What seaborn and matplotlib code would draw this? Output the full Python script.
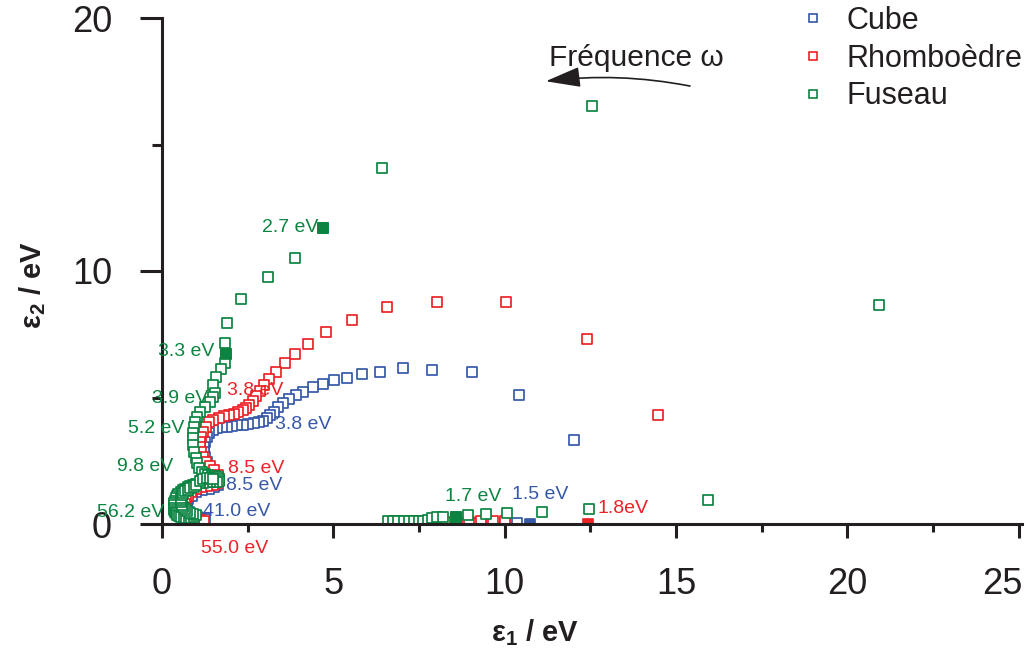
import matplotlib
matplotlib.use('Agg')
import matplotlib.pyplot as plt
from matplotlib.lines import Line2D
import seaborn as sns

# Cube
cube_e1 = [6.65, 6.95, 7.25, 7.55, 7.85, 8.15, 8.5, 8.85, 9.2, 9.6, 10.0, 10.35,
           12.03, 10.42, 9.05, 7.88, 7.03, 6.36, 5.84, 5.4, 5.02, 4.7, 4.41, 4.12,
           3.91, 3.71, 3.53, 3.39, 3.27, 3.15, 3.06, 2.95, 2.82, 2.68, 2.52, 2.36,
           2.2, 2.05, 1.9, 1.75, 1.6, 1.48, 1.38, 1.3, 1.25, 1.22, 1.22, 1.25, 1.3,
           1.38, 1.5, 1.6, 1.66, 1.64, 1.52, 1.36, 1.18, 1.0, 0.87, 0.77, 0.72,
           0.71, 0.74, 0.8, 0.9, 1.02, 1.14, 1.26]
cube_e2 = [0.03, 0.03, 0.03, 0.03, 0.03, 0.03, 0.03, 0.03, 0.03, 0.03, 0.03, 0.03,
           3.32, 5.1, 6.01, 6.09, 6.17, 6.01, 5.93, 5.77, 5.69, 5.53, 5.42, 5.22,
           5.1, 4.94, 4.78, 4.62, 4.43, 4.31, 4.19, 4.08, 4.02, 3.98, 3.95, 3.93,
           3.9, 3.88, 3.85, 3.82, 3.78, 3.7, 3.58, 3.42, 3.25, 3.05, 2.85, 2.65, 2.45,
           2.25, 2.05, 1.88, 1.72, 1.56, 1.45, 1.4, 1.34, 1.25, 1.12, 0.98, 0.84,
           0.7, 0.57, 0.46, 0.36, 0.28, 0.22, 0.18]
cube_fill_e1 = [10.75]
cube_fill_e2 = [0.0]

# Rhomboèdre
rhombo_e1 = [6.7, 7.0, 7.3, 7.6, 7.9, 8.25, 8.6, 8.95, 9.3, 9.65, 10.0,
             14.48, 12.41, 10.04, 8.03, 6.57, 5.55, 4.79, 4.26, 3.88, 3.59, 3.33,
             3.12, 2.98, 2.86, 2.75, 2.65, 2.55, 2.45, 2.35, 2.22, 2.1, 1.95, 1.8,
             1.65, 1.5, 1.38, 1.28, 1.2, 1.15, 1.12, 1.12, 1.15, 1.2, 1.28, 1.4,
             1.52, 1.62, 1.65, 1.6, 1.48, 1.32, 1.15, 0.98, 0.85, 0.75, 0.69, 0.66,
             0.67, 0.71, 0.78, 0.88, 1.0, 1.12, 1.22]
rhombo_e2 = [0.05, 0.05, 0.05, 0.06, 0.06, 0.07, 0.08, 0.09, 0.1, 0.11, 0.12,
             4.31, 7.31, 8.77, 8.77, 8.58, 8.06, 7.59, 7.11, 6.72, 6.36, 6.01,
             5.73, 5.49, 5.26, 5.05, 4.88, 4.72, 4.6, 4.5, 4.42, 4.36, 4.3, 4.25,
             4.2, 4.13, 4.02, 3.85, 3.65, 3.45, 3.25, 3.05, 2.85, 2.65, 2.45, 2.3,
             2.12, 1.95, 1.78, 1.62, 1.55, 1.52, 1.46, 1.38, 1.25, 1.1, 0.95, 0.8,
             0.65, 0.52, 0.4, 0.3, 0.22, 0.16, 0.12]
rhombo_fill_e1 = [12.42]
rhombo_fill_e2 = [0.0]

# Fuseau
fuseau_e1 = [6.6, 6.75, 6.9, 7.05, 7.2, 7.35, 7.5, 7.62, 7.75, 7.88, 8.03, 8.2,
             8.58, 8.93, 9.46, 10.07, 11.09, 12.46, 15.94, 20.93, 12.55, 6.42, 4.7,
             3.88, 3.09, 2.31, 1.9, 1.84, 1.87, 1.84, 1.72, 1.58, 1.49, 1.55, 1.49,
             1.4, 1.26, 1.11, 1.02, 0.96, 0.93, 0.9, 0.9, 0.9, 0.93, 0.99, 1.02,
             1.08, 1.16, 1.25, 1.35, 1.45, 1.55, 1.62, 1.66, 1.66, 1.6, 1.5, 1.4,
             1.3, 1.2, 1.1, 1.0, 0.9, 0.82, 0.75, 0.68, 0.6, 0.54, 0.48, 0.44, 0.4,
             0.38, 0.36, 0.35, 0.35, 0.36, 0.38, 0.41, 0.45, 0.5, 0.56, 0.63, 0.7,
             0.78, 0.86, 0.94, 0.98, 0.9, 0.82, 0.74, 0.67, 0.62, 0.58, 0.56, 0.55,
             0.56, 0.58, 0.62, 0.68, 0.75, 0.83, 0.92, 1.0, 1.1, 1.2, 1.3, 1.4, 1.5]
fuseau_e2 = [0.1, 0.1, 0.1, 0.1, 0.1, 0.1, 0.1, 0.12, 0.14, 0.24, 0.28, 0.28,
             0.28, 0.36, 0.4, 0.43, 0.47, 0.59, 0.95, 8.66, 16.52, 14.07, 11.7,
             10.51, 9.76, 8.89, 7.94, 7.15, 6.72, 6.36, 6.13, 5.81, 5.49, 5.18, 5.02,
             4.82, 4.62, 4.43, 4.23, 4.03, 3.83, 3.6, 3.4, 3.12, 2.85, 2.6, 2.41,
             2.21, 2.05, 1.96, 1.93, 1.91, 1.89, 1.85, 1.78, 1.7, 1.66, 1.65, 1.65,
             1.65, 1.64, 1.62, 1.6, 1.55, 1.5, 1.45, 1.4, 1.34, 1.27, 1.19, 1.1,
             1.01, 0.92, 0.83, 0.74, 0.65, 0.57, 0.49, 0.42, 0.36, 0.31, 0.28, 0.26,
             0.25, 0.25, 0.25, 0.26, 0.36, 0.4, 0.45, 0.52, 0.6, 0.68, 0.77, 0.86,
             0.95, 1.04, 1.13, 1.21, 1.29, 1.36, 1.42, 1.48, 1.53, 1.7, 1.78, 1.8,
             1.8, 1.78]
fuseau_fill_e1 = [8.58, 4.7, 1.87]
fuseau_fill_e2 = [0.28, 11.7, 6.72]

x_ticks = [0, 5, 10, 15, 20, 25]
x_tick_labels = ['0', '5', '10', '15', '20', '']

BLUE = '#3658a8'
RED = '#ec2227'
GREEN = '#0c8441'
INK = '#231f20'

labels = [
    ('2.7 eV', 2.92, 11.70, GREEN),
    ('3.3 eV', -0.12, 6.80, GREEN),
    ('3.9 eV', -0.29, 4.98, GREEN),
    ('5.2 eV', -0.99, 3.76, GREEN),
    ('9.8 eV', -1.31, 2.29, GREEN),
    ('56.2 eV', -1.90, 0.47, GREEN),
    ('3.8 eV', 1.90, 5.26, RED),
    ('8.5 eV', 1.93, 2.21, RED),
    ('8.5 eV', 1.87, 1.54, BLUE),
    ('3.8 eV', 3.30, 3.92, BLUE),
    ('41.0 eV', 1.20, 0.51, BLUE),
    ('55.0 eV', 1.14, -0.95, RED),
    ('1.7 eV', 8.26, 1.07, GREEN),
    ('1.5 eV', 10.22, 1.15, BLUE),
    ('1.8eV', 12.70, 0.63, RED),
]

sns.set_style('ticks')
plt.rcParams['font.family'] = ['Liberation Sans', 'DejaVu Sans']
plt.rcParams['mathtext.fontset'] = 'custom'
plt.rcParams['mathtext.rm'] = 'Liberation Sans'
plt.rcParams['mathtext.bf'] = 'Liberation Sans:bold'
plt.rcParams['mathtext.default'] = 'bf'

fig = plt.figure(figsize=(10.29, 6.51), dpi=100)
ax = fig.add_axes([162 / 1029, 127 / 651, 860 / 1029, 506 / 651])

series = [
    ('Cube', cube_e1, cube_e2, cube_fill_e1, cube_fill_e2, BLUE),
    ('Rhomboèdre', rhombo_e1, rhombo_e2, rhombo_fill_e1, rhombo_fill_e2, RED),
    ('Fuseau', fuseau_e1, fuseau_e2, fuseau_fill_e1, fuseau_fill_e2, GREEN),
]
for name, x, y, fx, fy, c in series:
    sns.scatterplot(x=x, y=y, marker='s', s=52, ax=ax, legend=False)
    pts = ax.collections[-1]
    pts.set_facecolor('white')
    pts.set_edgecolor(c)
    pts.set_linewidth(1.25)
    sns.scatterplot(x=fx, y=fy, marker='s', s=52, ax=ax, legend=False)
    pts = ax.collections[-1]
    pts.set_facecolor(c)
    pts.set_edgecolor(c)
    pts.set_linewidth(1.25)

ax.set_xlim(0, 25.1)
ax.set_ylim(0, 20)
ax.set_xticks(x_ticks)
ax.set_xticklabels(x_tick_labels)
ax.set_xticks([2.5, 7.5, 12.5, 17.5, 22.5], minor=True)
ax.set_yticks([0, 10, 20])
ax.set_yticks([5, 15], minor=True)
sns.despine(ax=ax)
for side in ['left', 'bottom']:
    ax.spines[side].set_linewidth(2.2)
    ax.spines[side].set_color(INK)
ax.tick_params(axis='x', which='major', length=10, width=2.2, pad=21,
               labelsize=26, color=INK, labelcolor=INK)
ax.tick_params(axis='x', which='minor', length=6, width=2.2, color=INK)
ax.tick_params(axis='y', which='major', length=16, width=2.2, pad=20,
               labelsize=26, color=INK, labelcolor=INK)
ax.tick_params(axis='y', which='minor', length=7, width=2.2, color=INK)

# last x tick label, pulled in so it stays inside the figure
ax.annotate('25', xy=(x_ticks[-1], 0), xycoords=('data', 'axes fraction'),
            xytext=(2.5, -31), textcoords='offset points', ha='right', va='top',
            fontsize=26, color=INK)

ax.set_xlabel('ε$_1$ / eV', fontsize=21, fontweight='bold', color=INK)
ax.set_ylabel('ε$_2$ / eV', fontsize=21, fontweight='bold', color=INK,
              va='center', ha='center')
ax.xaxis.set_label_coords(0.434, -0.185)
ax.yaxis.set_label_coords(-0.151, 0.472)

for txt, tx, ty, c in labels:
    ax.text(tx, ty, txt, color=c, fontsize=14, ha='left', va='center')

ax.text(11.3, 18.4, 'Fréquence ω', fontsize=21.5, color=INK, ha='left', va='center')
ax.annotate('', xy=(11.2, 17.5), xytext=(15.41, 17.31),
            arrowprops=dict(arrowstyle='-|>,head_length=1.2,head_width=0.35',
                            connectionstyle='arc3,rad=0.08', color=INK, lw=1.2,
                            mutation_scale=18, shrinkA=0, shrinkB=0))

handles = [Line2D([], [], marker='s', ls='none', mfc='white', mec=c, ms=5.5, mew=1.2)
           for c in [BLUE, RED, GREEN]]
fig.legend(handles, ['Cube', 'Rhomboèdre', 'Fuseau'], loc='upper left',
           bbox_to_anchor=(802 / 1029, 1 - 6 / 651), frameon=False, fontsize=22,
           handlelength=0.75, handletextpad=0.7, labelspacing=0.25,
           borderaxespad=0, borderpad=0, labelcolor=INK)

fig.savefig('out.png', dpi=100)
